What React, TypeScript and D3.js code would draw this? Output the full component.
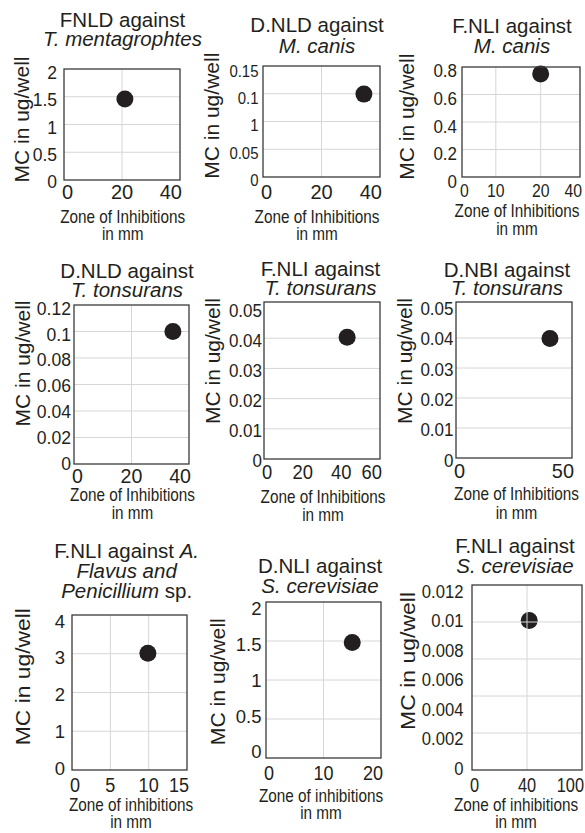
import React from "react";
import * as d3 from "d3";

type Seg = [string, boolean];

// ---------- data ----------
const titleLines: Seg[][][] = [
  [[["FNLD against", false]], [["T. mentagrophtes", true]]],
  [[["D.NLD against", false]], [["M. canis", true]]],
  [[["F.NLI against", false]], [["M. canis", true]]],
  [[["D.NLD against", false]], [["T. tonsurans", true]]],
  [[["F.NLI against", false]], [["T. tonsurans", true]]],
  [[["D.NBI against", false]], [["T. tonsurans", true]]],
  [
    [["F.NLI against ", false], ["A.", true]],
    [["Flavus and", true]],
    [["Penicillium", true], [" sp.", false]],
  ],
  [[["D.NLI against", false]], [["S. cerevisiae", true]]],
  [[["F.NLI against", false]], [["S. cerevisiae", true]]],
];

const xAxisTitles = [
  "Zone of Inhibitions", "Zone of Inhibitions", "Zone of Inhibitions",
  "Zone of Inhibitions", "Zone of Inhibitions", "Zone of Inhibitions",
  "Zone of inhibitions", "Zone of inhibitions", "Zone of inhibitions",
];
const xAxisSubtitle = "in mm";
const yAxisTitle = "MC in ug/well";

const xDomainMax = [40, 40, 30, 40, 60, 50, 15, 20, 100];
const yDomainMax = [2, 0.15, 0.8, 0.12, 0.052, 0.052, 4, 2, 0.0125];

const xTickValues = [
  [0, 20, 40], [0, 20, 40], [0, 8.6, 20, 30], [0, 20, 40], [0, 20, 40, 60],
  [0, 50], [0, 5, 10, 15], [0, 10, 20], [0, 50, 100],
];
const xTickLabels = [
  ["0", "20", "40"], ["0", "20", "40"], ["0", "10", "20", "40"], ["0", "20", "40"],
  ["0", "20", "40", "60"], ["0", "50"], ["0", "5", "10", "15"], ["0", "10", "20"],
  ["0", "40", "100"],
];
const xGridValues = [[20], [20], [8.6, 20], [20], [], [], [5, 10], [10], [50]];

const yTickValues = [
  [0, 0.5, 1, 1.5, 2],
  [0, 0.0375, 0.075, 0.1125, 0.15],
  [0, 0.2, 0.4, 0.6, 0.8],
  [0, 0.02, 0.04, 0.06, 0.08, 0.1, 0.12],
  [0, 0.01, 0.02, 0.03, 0.04, 0.05],
  [0, 0.01, 0.02, 0.03, 0.04, 0.05],
  [0, 1, 2, 3, 4],
  [0, 0.5, 1, 1.5, 2],
  [0, 0.002, 0.004, 0.006, 0.008, 0.01, 0.012],
];
const yTickLabels = [
  ["0", "0.5", "1", "1.5", "2"],
  ["0", "0.05", "1", "0.1", "0.15"],
  ["0", "0.2", "0.4", "0.6", "0.8"],
  ["0", "0.02", "0.04", "0.06", "0.08", "0.1", "0.12"],
  ["0", "0.01", "0.02", "0.03", "0.04", "0.05"],
  ["0", "0.01", "0.02", "0.03", "0.04", "0.05"],
  ["0", "1", "2", "3", "4"],
  ["0", "0.5", "1", "1.5", "2"],
  ["0", "0.002", "0.004", "0.006", "0.008", "0.01", "0.012"],
];
const yGridValues = [
  [0.5, 1, 1.5],
  [0.0375, 0.075, 0.1125],
  [0.2, 0.4, 0.6],
  [0.02, 0.04, 0.06, 0.08, 0.1],
  [0.01, 0.02, 0.03, 0.04],
  [0.01, 0.02, 0.03, 0.04],
  [1, 2, 3],
  [0.5, 1, 1.5],
  [0.0025, 0.005, 0.0075, 0.01],
];

const pointX = [21, 34.5, 20, 34.4, 43, 40.5, 9.9, 15, 52];
const pointY = [1.46, 0.112, 0.75, 0.1, 0.0403, 0.0398, 3.01, 1.48, 0.0101];

// ---------- layout ----------
type Layout = {
  box: [number, number, number, number];
  title: { cx: number; ys: number[] };
  yTitle: { x: number; cy: number; len: number };
  xTitle: { cx: number; ys: [number, number] };
  yLab: { fs: number; sx: number; right: number; range: [number, number] };
  xLab: { fs: number; sx: number; base: number };
  gridOnTop?: boolean;
};

const layout: Layout[] = [
  { box: [64, 69, 180, 180], title: { cx: 122.5, ys: [27.3, 45.7] }, yTitle: { x: 28.5, cy: 119.5, len: 126 }, xTitle: { cx: 122.7, ys: [223.3, 240] }, yLab: { fs: 17.5, sx: 1, right: 57, range: [181.7, 72.7] }, xLab: { fs: 20, sx: 1, base: 199 } },
  { box: [263, 66, 380, 177], title: { cx: 317, ys: [31.5, 53.3] }, yTitle: { x: 218.5, cy: 115.7, len: 126 }, xTitle: { cx: 317, ys: [222.7, 240] }, yLab: { fs: 17, sx: 0.88, right: 258.5, range: [180, 70.7] }, xLab: { fs: 20, sx: 1, base: 199 } },
  { box: [462, 67, 580, 177], title: { cx: 512, ys: [33, 53] }, yTitle: { x: 413.5, cy: 116.7, len: 126 }, xTitle: { cx: 517, ys: [217.3, 235] }, yLab: { fs: 17.5, sx: 0.97, right: 457, range: [181.7, 71] }, xLab: { fs: 18.6, sx: 0.85, base: 197 } },
  { box: [74, 305, 189, 464], title: { cx: 127, ys: [278.3, 296.7] }, yTitle: { x: 30, cy: 363.5, len: 126 }, xTitle: { cx: 132.5, ys: [500.7, 519.3] }, yLab: { fs: 18.5, sx: 0.95, right: 71, range: [463.3, 308] }, xLab: { fs: 20, sx: 0.98, base: 482.7 } },
  { box: [264, 302, 380, 459], title: { cx: 320.5, ys: [276, 295] }, yTitle: { x: 220, cy: 361, len: 126 }, xTitle: { cx: 323, ys: [503.3, 520.7] }, yLab: { fs: 18.5, sx: 0.92, right: 262, range: [460, 310] }, xLab: { fs: 20, sx: 0.92, base: 479 } },
  { box: [456, 302, 572, 458], title: { cx: 507, ys: [276.7, 295] }, yTitle: { x: 411.7, cy: 361, len: 126 }, xTitle: { cx: 516.5, ys: [500, 519.3] }, yLab: { fs: 18.5, sx: 0.92, right: 453.5, range: [460, 308.3] }, xLab: { fs: 21, sx: 0.95, base: 478 } },
  { box: [72, 615, 187, 770], title: { cx: 126.7, ys: [558.3, 577.5, 597.5] }, yTitle: { x: 29.6, cy: 676.7, len: 137 }, xTitle: { cx: 131, ys: [810.7, 827.7] }, yLab: { fs: 18.5, sx: 1, right: 65, range: [768.3, 621] }, xLab: { fs: 21, sx: 0.86, base: 791.7 } },
  { box: [266, 602, 381, 758], title: { cx: 320, ys: [573.3, 593.3] }, yTitle: { x: 225, cy: 681.7, len: 127 }, xTitle: { cx: 321, ys: [801.7, 819.3] }, yLab: { fs: 18.5, sx: 1, right: 261.5, range: [751.7, 608.3] }, xLab: { fs: 21, sx: 0.86, base: 780 } },
  { box: [472, 585, 582, 770], title: { cx: 515, ys: [553.3, 573.3] }, yTitle: { x: 414.6, cy: 661, len: 138 }, xTitle: { cx: 516, ys: [810.7, 827.7] }, yLab: { fs: 18.5, sx: 0.9, right: 463.5, range: [768.3, 591] }, xLab: { fs: 21, sx: 0.78, base: 791.7 }, gridOnTop: true },
];

const FONT = "'Liberation Sans', Arial, Helvetica, sans-serif";
const INK = "#231f20";
const GRID = "#d6d6d6";
const FRAME = "#3a3a3a";
const R = 8.5;

function Panel({ i }: { i: number }) {
  const L = layout[i];
  const [x0, y0, x1, y1] = L.box;
  const xs = d3.scaleLinear().domain([0, xDomainMax[i]]).range([x0, x1]);
  const ys = d3.scaleLinear().domain([0, yDomainMax[i]]).range([y1, y0]);
  const yt = yTickValues[i];
  const yl = d3.scaleLinear().domain([yt[0], yt[yt.length - 1]]).range(L.yLab.range);

  const grid = (
    <g>
      {xGridValues[i].map((v, k) => (
        <line key={"gx" + k} x1={xs(v)} x2={xs(v)} y1={y0} y2={y1} stroke={GRID} strokeWidth={1} />
      ))}
      {yGridValues[i].map((v, k) => (
        <line key={"gy" + k} x1={x0} x2={x1} y1={ys(v)} y2={ys(v)} stroke={GRID} strokeWidth={1} />
      ))}
    </g>
  );
  const dot = <circle cx={xs(pointX[i])} cy={ys(pointY[i])} r={R} fill={INK} />;
  const xt = xTickValues[i];

  return (
    <g>
      <rect x={x0} y={y0} width={x1 - x0} height={y1 - y0} fill="#fff" />
      {!L.gridOnTop && grid}
      {dot}
      {L.gridOnTop && grid}
      <rect x={x0} y={y0} width={x1 - x0} height={y1 - y0} fill="none" stroke={FRAME} strokeWidth={1.3} />

      {titleLines[i].map((line, k) => (
        <text key={"t" + k} x={L.title.cx} y={L.title.ys[k]} textAnchor="middle" fontSize={20.5} fontFamily={FONT} fill={INK} style={{ whiteSpace: "pre" }}>
          {line.map((s, j) => (
            <tspan key={j} fontStyle={s[1] ? "italic" : "normal"}>{s[0]}</tspan>
          ))}
        </text>
      ))}

      {yt.map((v, k) => (
        <g key={"yl" + k} transform={`translate(${L.yLab.right},${yl(v) + L.yLab.fs * 0.36}) scale(${L.yLab.sx},1)`}>
          <text textAnchor="end" fontSize={L.yLab.fs} fontFamily={FONT} fill={INK}>{yTickLabels[i][k]}</text>
        </g>
      ))}

      {xt.map((v, k) => {
        const first = k === 0;
        const last = k === xt.length - 1;
        const anchor = first ? "start" : last ? "end" : "middle";
        const px = xs(v) + (first ? -2 : last ? 2 : 0);
        return (
          <g key={"xl" + k} transform={`translate(${px},${L.xLab.base}) scale(${L.xLab.sx},1)`}>
            <text textAnchor={anchor} fontSize={L.xLab.fs} fontFamily={FONT} fill={INK}>{xTickLabels[i][k]}</text>
          </g>
        );
      })}

      <text
        transform={`translate(${L.yTitle.x},${L.yTitle.cy}) rotate(-90)`}
        textAnchor="middle"
        fontSize={21}
        fontFamily={FONT}
        fill={INK}
        textLength={L.yTitle.len}
        lengthAdjust="spacingAndGlyphs"
      >
        {yAxisTitle}
      </text>

      <g transform={`translate(${L.xTitle.cx},${L.xTitle.ys[0]}) scale(0.85,1)`}>
        <text textAnchor="middle" fontSize={18} fontFamily={FONT} fill={INK}>{xAxisTitles[i]}</text>
      </g>
      <g transform={`translate(${L.xTitle.cx},${L.xTitle.ys[1]}) scale(0.85,1)`}>
        <text textAnchor="middle" fontSize={18} fontFamily={FONT} fill={INK}>{xAxisSubtitle}</text>
      </g>
    </g>
  );
}

export default function App() {
  return (
    <svg
      width={585}
      height={833}
      viewBox="0 0 585 833"
      style={{ position: "absolute", left: 0, top: 0, background: "#fff" }}
    >
      <rect x={0} y={0} width={585} height={833} fill="#fff" />
      {layout.map((_, i) => (
        <Panel key={i} i={i} />
      ))}
    </svg>
  );
}
